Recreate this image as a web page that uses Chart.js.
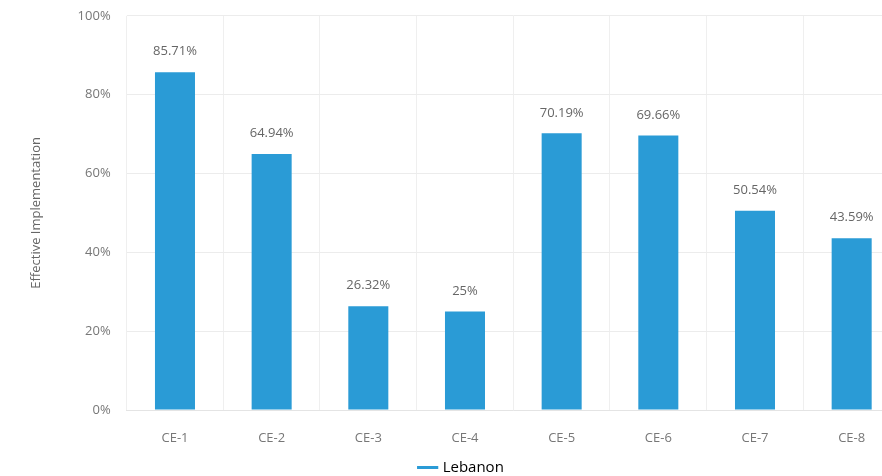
<!DOCTYPE html>
<html>
<head>
<meta charset="utf-8">
<script src="https://cdn.jsdelivr.net/npm/chart.js@4/dist/chart.umd.min.js"></script>
<style>
  html, body { margin: 0; padding: 0; background: #fff; overflow: hidden; }
  #wrap { width: 900px; height: 476px; overflow: hidden; }
  #chart { display: block; margin-top: -8px; }
</style>
</head>
<body>
<div id="wrap"><canvas id="chart" width="900" height="493"></canvas></div>
<script>
// chart data
const categories = ['CE-1', 'CE-2', 'CE-3', 'CE-4', 'CE-5', 'CE-6', 'CE-7', 'CE-8'];
const lebanonValues = [85.71, 64.94, 26.32, 25, 70.19, 69.66, 50.54, 43.59];
const yTicks = [0, 20, 40, 60, 80, 100];

// draws the value above each bar
const valueLabels = {
  id: 'valueLabels',
  afterDatasetsDraw(chart) {
    const ctx = chart.ctx;
    ctx.save();
    ctx.font = '13px "Open Sans", sans-serif';
    ctx.fillStyle = '#666';
    ctx.textAlign = 'center';
    ctx.textBaseline = 'bottom';
    chart.getDatasetMeta(0).data.forEach((bar, i) => {
      ctx.fillText(lebanonValues[i] + '%', bar.x, bar.y - 14);
    });
    ctx.restore();
  }
};

new Chart(document.getElementById('chart').getContext('2d'), {
  type: 'bar',
  data: {
    labels: categories,
    datasets: [{
      label: 'Lebanon',
      data: lebanonValues,
      backgroundColor: '#2a9bd6',
      borderColor: '#2a9bd6',
      categoryPercentage: 1,
      barPercentage: 0.414,
    }],
  },
  options: {
    responsive: false,
    animation: false,
    layout: { padding: { top: 2, left: 24, right: 0, bottom: 0 } },
    plugins: {
      legend: {
        position: 'bottom',
        labels: {
          usePointStyle: true,
          pointStyle: 'line',
          color: '#555',
          font: { family: 'Open Sans', size: 15 },
          boxWidth: 20,
          padding: 0,
          generateLabels(chart) {
            return [{
              text: 'Lebanon',
              strokeStyle: '#2a9bd6',
              fillStyle: '#2a9bd6',
              lineWidth: 3,
              pointStyle: 'line',
              datasetIndex: 0,
            }];
          },
        },
      },
      tooltip: { enabled: false },
    },
    scales: {
      x: {
        grid: { color: '#efefef', drawTicks: false, offset: true },
        border: { color: '#e4e4e4' },
        ticks: { color: '#777', font: { family: 'Open Sans', size: 13 }, padding: 20 },
        afterFit(scale) { scale.height = 50; },
      },
      y: {
        min: 0,
        max: 100,
        afterBuildTicks(scale) {
          scale.ticks = yTicks.map(v => ({ value: v }));
        },
        grid: { color: '#ececec', drawTicks: false },
        border: { display: false },
        ticks: {
          color: '#777',
          font: { family: 'Open Sans', size: 13 },
          padding: 16,
          callback: v => v + '%',
        },
        title: {
          display: true,
          text: 'Effective Implementation',
          color: '#666',
          font: { family: 'Open Sans', size: 13 },
          padding: { bottom: 18 },
        },
      },
    },
  },
  plugins: [valueLabels],
});
</script>
</body>
</html>
